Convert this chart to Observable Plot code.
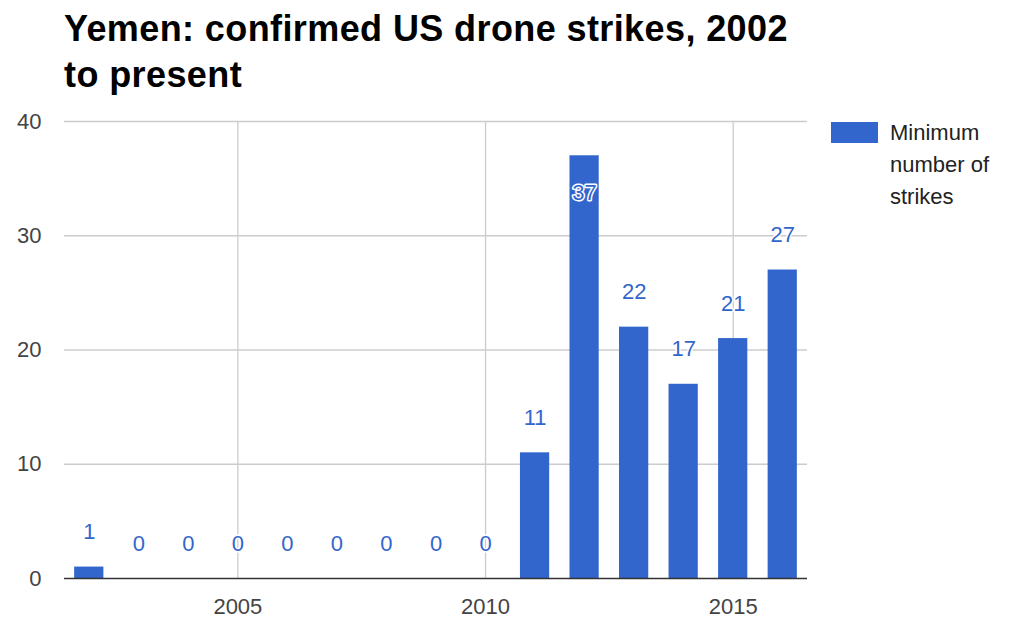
<!DOCTYPE html>
<html>
<head>
<meta charset="utf-8">
<script src="https://cdn.jsdelivr.net/npm/d3@7"></script>
<script src="https://cdn.jsdelivr.net/npm/@observablehq/plot@0.6"></script>
<style>
  html, body { margin: 0; padding: 0; background: #fff; }
  #wrap { position: relative; width: 1011px; height: 620px; overflow: hidden; font-family: "Liberation Sans", Arial, sans-serif; }
  #title { position: absolute; left: 64px; top: 6px; width: 800px; font-family: "Liberation Sans", Arial, sans-serif; font-weight: bold; font-size: 36px; line-height: 46px; color: #000; letter-spacing: 0.4px; }
  #chart { position: absolute; left: 0; top: 100px; }
  #legend { position: absolute; left: 831px; top: 122px; display: flex; align-items: flex-start; }
  #legend .sw { width: 47px; height: 21px; background: #3366cc; margin-right: 12px; }
  #legend .lab { font-size: 22px; line-height: 32px; color: #222; margin-top: -5px; width: 120px; }
</style>
</head>
<body>
<div id="wrap">
  <div id="title">Yemen: confirmed US drone strikes, 2002<br>to present</div>
  <div id="chart"></div>
  <div id="legend"><div class="sw"></div><div class="lab" id="legendLabel"></div></div>
</div>
<script>
const years = [2002, 2003, 2004, 2005, 2006, 2007, 2008, 2009, 2010, 2011, 2012, 2013, 2014, 2015, 2016];
const strikes = [1, 0, 0, 0, 0, 0, 0, 0, 0, 11, 37, 22, 17, 21, 27];
const xTicks = [2005, 2010, 2015];
const yTicks = [0, 10, 20, 30, 40];
const seriesName = "Minimum number of strikes";

const data = years.map((y, i) => ({year: y, value: strikes[i]}));
const blue = "#3366cc";

document.getElementById("legendLabel").textContent = seriesName;

const chart = Plot.plot({
  width: 1011,
  height: 520,
  marginLeft: 64,
  marginRight: 204,
  marginTop: 21,
  marginBottom: 42,
  style: {fontFamily: "'Liberation Sans', Arial, sans-serif", fontSize: "22px", background: "transparent"},
  x: {type: "band", domain: years, paddingInner: 0.41, paddingOuter: 0.205, round: false, label: null},
  y: {domain: [0, 40], label: null},
  marks: [
    Plot.ruleY(yTicks.filter(t => t > 0), {stroke: "#cccccc", strokeWidth: 1.3}),
    Plot.ruleX(xTicks, {x: d => d, stroke: "#cccccc", strokeWidth: 1.3}),
    Plot.barY(data, {x: "year", y: "value", fill: blue}),
    Plot.ruleY([0], {stroke: "#333", strokeWidth: 1.5}),
    Plot.text(data.filter(d => d.value < 35), {x: "year", y: "value", text: d => String(d.value), dy: -35, fill: blue, stroke: "white", strokeWidth: 3, fontSize: 22}),
    Plot.text(data.filter(d => d.value >= 35), {x: "year", y: "value", text: d => String(d.value), dy: 37, fill: blue, stroke: "white", strokeWidth: 3, fontSize: 22}),
    Plot.axisY(yTicks, {tickSize: 0, tickPadding: 23, fill: "#444", fontSize: 22}),
    Plot.axisX(xTicks, {tickSize: 0, tickPadding: 20, fill: "#444", fontSize: 22, tickFormat: d => String(d)})
  ]
});
document.getElementById("chart").appendChild(chart);
</script>
</body>
</html>
